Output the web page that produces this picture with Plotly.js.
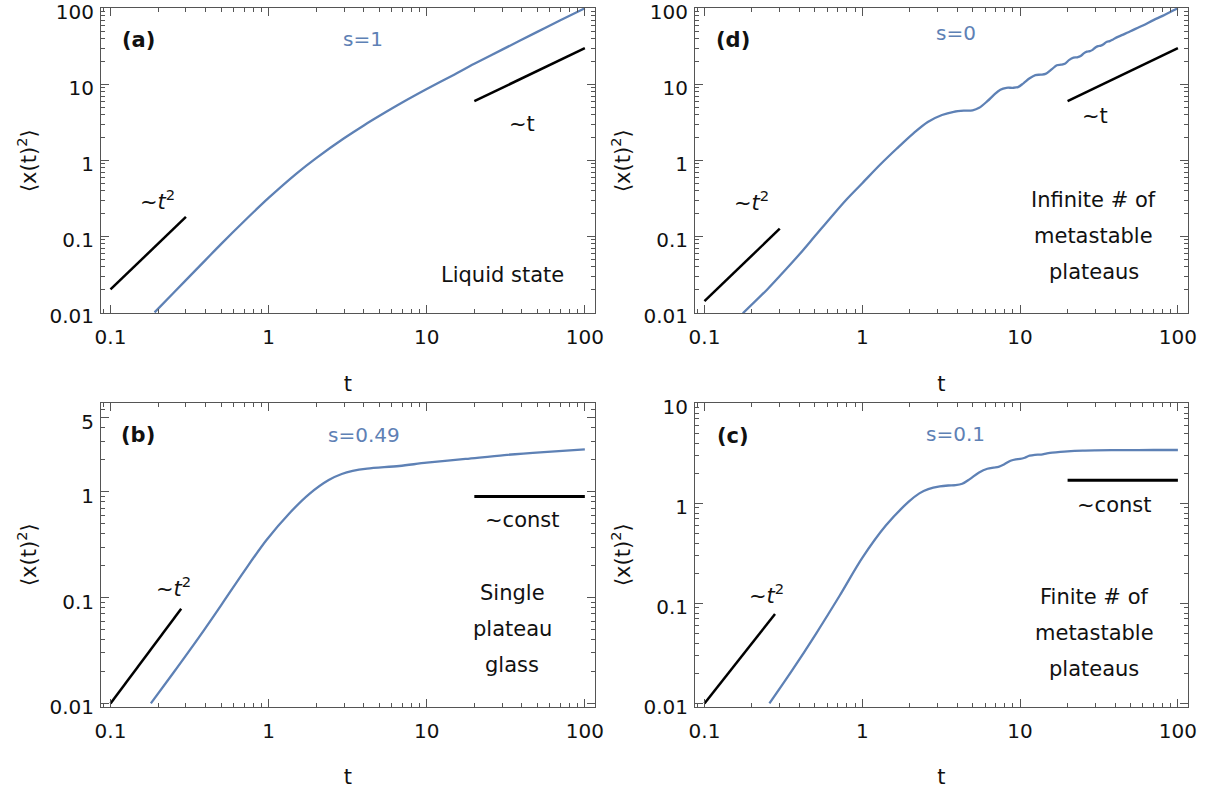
<!DOCTYPE html>
<html>
<head>
<meta charset="utf-8">
<script src="https://cdn.plot.ly/plotly-3.0.1.min.js"></script>
<style>html,body{margin:0;padding:0;background:#fff;}#chart{width:1211px;height:793px;}</style>
</head>
<body>
<div id="chart"></div>
<script>
// ---------- data ----------
// (a) s=1, liquid state
var tA = [0.19,0.25,0.3,0.4,0.5,0.7,1,1.5,2,3,4,5,7,10,15,20,30,50,70,100];
var yA = [0.01,0.018,0.0265,0.049,0.079,0.158,0.32,0.67,1.07,1.95,2.88,3.82,5.75,8.65,13.5,18.6,28.6,49,69.5,100];
// (d) s=0, infinite number of metastable plateaus
var tD = [0.175,0.25,0.3,0.4,0.5,0.65,0.8,1.0,1.3,1.65,2.1,2.6,3.2,3.8,4.4,5.0,5.5,6.2,6.8,7.5,8.2,9.0,9.7,10.5,11.5,12.5,13.5,14.5,16.0,17.1,18.2,19.2,20.5,21.8,23.0,24.2,25.3,26.5,27.7,28.8,30.0,31.2,32.5,34,35.5,37,38.5,40,45,50,60,70,80,90,100];
var yD = [0.0097,0.02,0.03,0.058,0.1,0.19,0.31,0.5,0.88,1.42,2.25,3.2,3.95,4.35,4.5,4.55,4.9,6.0,7.2,8.5,9.0,9.0,9.2,10.3,12.0,13.2,13.4,13.7,16.0,17.8,18.1,18.6,21.0,22.4,22.7,23.5,25.5,26.9,27.3,28.4,30.5,31.8,32.3,34.0,36.3,37,38.5,40.5,45,50,59.5,70,79.5,90,100];
// (b) s=0.49, single plateau glass
var tB = [0.18,0.25,0.37,0.52,0.7,0.97,1.36,1.82,2.4,2.9,3.4,4.2,6.7,10,17.6,31,55,100];
var yB = [0.01,0.0195,0.044,0.092,0.177,0.35,0.63,0.96,1.29,1.47,1.57,1.65,1.75,1.88,2.04,2.22,2.37,2.51];
// (c) s=0.1, finite number of metastable plateaus
var tC = [0.258,0.36,0.51,0.72,1.0,1.41,1.97,2.3,2.62,3.1,3.5,3.9,4.3,4.8,5.5,6.2,6.8,7.3,7.9,8.7,9.4,10,10.7,11.5,12.4,13.6,14.8,16,18,20,25,30,45,70,100];
var yC = [0.01,0.0215,0.05,0.12,0.285,0.6,1.04,1.26,1.39,1.48,1.51,1.52,1.57,1.75,2.04,2.22,2.28,2.32,2.45,2.67,2.76,2.78,2.86,3.0,3.06,3.08,3.16,3.22,3.28,3.32,3.37,3.39,3.41,3.42,3.42];

// guide lines
var guideT2A = {t:[0.1,0.3], y:[0.02,0.18]};
var guideT1A = {t:[20,100], y:[6,30]};
var guideT2D = {t:[0.1,0.3], y:[0.014,0.126]};
var guideT1D = {t:[20,100], y:[6,30]};
var guideT2B = {t:[0.1,0.28], y:[0.01,0.0784]};
var constB  = {t:[20,100], y:[0.9,0.9]};
var guideT2C = {t:[0.1,0.28], y:[0.01,0.0784]};
var constC  = {t:[20,100], y:[1.7,1.7]};

var xTicks = [0.1,1,10,100];
var xTickText = ['0.1','1','10','100'];
var yTicksTop = [0.01,0.1,1,10,100];
var yTickTextTop = ['0.01','0.1','1','10','100'];
var yTicksB = [0.01,0.1,1,5];
var yTickTextB = ['0.01','0.1','1','5'];
var yTicksC = [0.01,0.1,1,10];
var yTickTextC = ['0.01','0.1','1','10'];

// ---------- styling ----------
var BLUE = '#5E81B5';
var FONT = 'DejaVu Sans, Liberation Sans, Arial, sans-serif';
var INK = '#111';

function curve(t, y, xa, ya) {
  return {x:t, y:y, xaxis:xa, yaxis:ya, mode:'lines', type:'scatter',
    line:{color:BLUE, width:2.3, shape:'spline', smoothing:0.9}, hoverinfo:'skip', showlegend:false};
}
function guide(g, xa, ya, w) {
  return {x:g.t, y:g.y, xaxis:xa, yaxis:ya, mode:'lines', type:'scatter',
    line:{color:'#000', width:w}, hoverinfo:'skip', showlegend:false};
}

var data = [
  curve(tA, yA, 'x', 'y'), guide(guideT2A, 'x', 'y', 2.5), guide(guideT1A, 'x', 'y', 2.5),
  curve(tD, yD, 'x2', 'y2'), guide(guideT2D, 'x2', 'y2', 2.5), guide(guideT1D, 'x2', 'y2', 2.5),
  curve(tB, yB, 'x3', 'y3'), guide(guideT2B, 'x3', 'y3', 2.5), guide(constB, 'x3', 'y3', 3),
  curve(tC, yC, 'x4', 'y4'), guide(guideT2C, 'x4', 'y4', 2.5), guide(constC, 'x4', 'y4', 3)
];

function xax(dom, anchor) {
  return {type:'log', domain:dom, anchor:anchor, range:[-1.06, 2.064],
    tickvals:xTicks, ticktext:xTickText, ticks:'inside', ticklen:8, tickwidth:1, tickcolor:'#555',
    minor:{ticks:'inside', ticklen:4, tickwidth:1, tickcolor:'#555', dtick:'D1', showgrid:false},
    showline:true, linecolor:'#555', linewidth:1, mirror:'allticks', showgrid:false, zeroline:false,
    tickfont:{family:FONT, size:20, color:INK}, ticklabelstandoff:6, ticklabeloverflow:'allow',
    title:{text:'t', font:{family:FONT, size:21, color:INK}, standoff:27}};
}
function yax(dom, anchor, range, tv, tt) {
  return {type:'log', domain:dom, anchor:anchor, range:range,
    tickvals:tv, ticktext:tt, ticks:'inside', ticklen:8, tickwidth:1, tickcolor:'#555',
    minor:{ticks:'inside', ticklen:4, tickwidth:1, tickcolor:'#555', dtick:'D1', showgrid:false},
    showline:true, linecolor:'#555', linewidth:1, mirror:'allticks', showgrid:false, zeroline:false,
    tickfont:{family:FONT, size:20, color:INK}, ticklabelstandoff:2, ticklabelshift:4, ticklabeloverflow:'allow',
    title:{text:'\u27E8x(t)<sup>2</sup>\u27E9', font:{family:FONT, size:21, color:INK}, standoff:7}};
}

var XL = [0.0834, 0.4913], XR = [0.5739, 0.9810];
var YT = [0.6049, 0.9899], YB = [0.1088, 0.4922];

function ann(xref, yref, lx, ly, text, opts) {
  var a = {xref:xref, yref:yref, x:lx, y:ly, text:text, showarrow:false,
    font:{family:FONT, size:21, color:INK}, xanchor:'center', yanchor:'middle'};
  if (opts) for (var k in opts) { if (k === 'font') { for (var f in opts.font) a.font[f] = opts.font[f]; } else a[k] = opts[k]; }
  return a;
}
var bold = {font:{size:21}};
var blue = {font:{color:BLUE, size:20}};

var annotations = [
  // (a)
  ann('x','y',-0.823,1.58,'<b>(a)</b>',bold),
  ann('x','y',0.598,1.596,'s=1',blue),
  ann('x','y',1.60,0.478,'~t'),
  ann('x','y',-0.70,-0.52,'~<i>t</i><sup>2</sup>'),
  ann('x','y',1.48,-1.51,'Liquid state'),
  // (d)
  ann('x2','y2',-0.82,1.58,'<b>(d)</b>',bold),
  ann('x2','y2',0.593,1.68,'s=0',blue),
  ann('x2','y2',1.474,0.583,'~t'),
  ann('x2','y2',-0.70,-0.54,'~<i>t</i><sup>2</sup>'),
  ann('x2','y2',1.466,-0.525,'Infinite # of'),
  ann('x2','y2',1.466,-0.99,'metastable'),
  ann('x2','y2',1.466,-1.468,'plateaus'),
  // (b)
  ann('x3','y3',-0.823,0.535,'<b>(b)</b>',bold),
  ann('x3','y3',0.605,0.535,'s=0.49',blue),
  ann('x3','y3',1.60,-0.268,'~const'),
  ann('x3','y3',-0.60,-0.898,'~<i>t</i><sup>2</sup>'),
  ann('x3','y3',1.54,-0.954,'Single'),
  ann('x3','y3',1.54,-1.30,'plateau'),
  ann('x3','y3',1.54,-1.638,'glass'),
  // (c)
  ann('x4','y4',-0.82,0.677,'<b>(c)</b>',bold),
  ann('x4','y4',0.593,0.693,'s=0.1',blue),
  ann('x4','y4',1.597,-0.013,'~const'),
  ann('x4','y4',-0.61,-0.907,'~<i>t</i><sup>2</sup>'),
  ann('x4','y4',1.47,-0.94,'Finite # of'),
  ann('x4','y4',1.47,-1.30,'metastable'),
  ann('x4','y4',1.47,-1.657,'plateaus')
];

var layout = {
  width:1211, height:793, margin:{l:0, r:0, t:0, b:0},
  paper_bgcolor:'#fff', plot_bgcolor:'#fff', showlegend:false,
  font:{family:FONT, color:INK},
  xaxis: xax(XL, 'y'),
  yaxis: yax(YT, 'x', [-2.013, 2.004], yTicksTop, yTickTextTop),
  xaxis2: xax(XR, 'y2'),
  yaxis2: yax(YT, 'x2', [-2.013, 2.004], yTicksTop, yTickTextTop),
  xaxis3: xax(XL, 'y3'),
  yaxis3: yax(YB, 'x3', [-2.031, 0.841], yTicksB, yTickTextB),
  xaxis4: xax(XR, 'y4'),
  yaxis4: yax(YB, 'x4', [-2.033, 1.007], yTicksC, yTickTextC),
  annotations: annotations
};

Plotly.newPlot('chart', data, layout, {staticPlot:true, displayModeBar:false});
</script>
</body>
</html>
